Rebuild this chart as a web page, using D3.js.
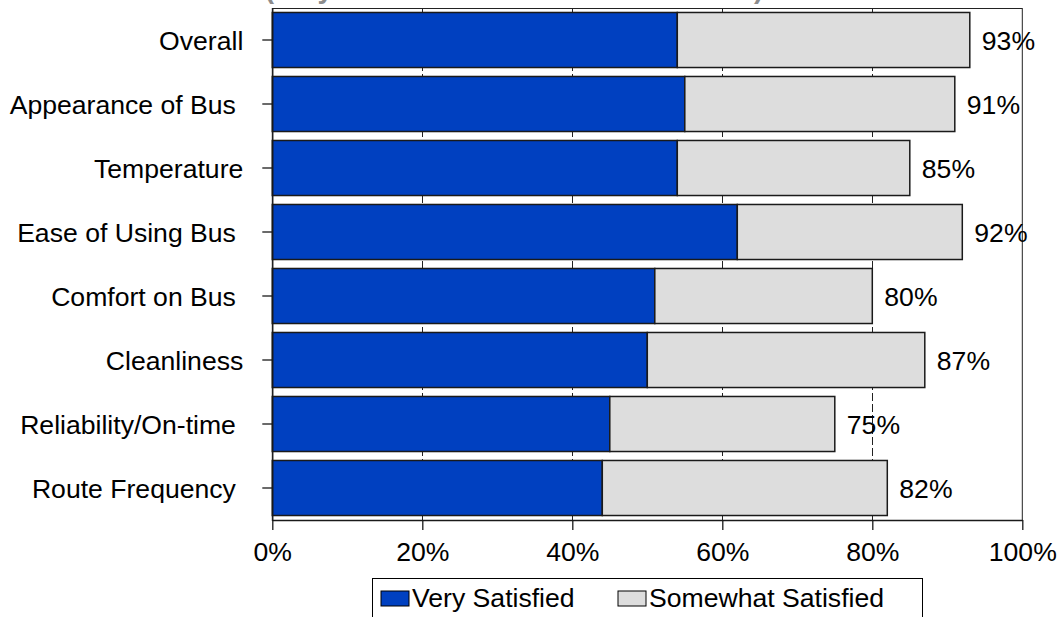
<!DOCTYPE html>
<html><head><meta charset="utf-8">
<script src="https://cdn.jsdelivr.net/npm/d3@7"></script>
<style>
body{margin:0;background:#fff}
svg{display:block}
text{font-family:"Liberation Sans",Arial,sans-serif}
</style>
</head><body>
<svg id="c" width="1059" height="617"></svg>
<script>
const categories = ["Overall","Appearance of Bus ","Temperature","Ease of Using Bus ","Comfort on Bus ","Cleanliness","Reliability/On-time ","Route Frequency "];
const verySatisfied = [54,55,54,62,51,50,45,44];
const somewhatSatisfied = [39,36,31,30,29,37,30,38];
const totalLabels = ["93%","91%","85%","92%","80%","87%","75%","82%"];
const xTicks = [0,20,40,60,80,100];
const gridTicks = [20,40,60,80];
const seriesNames = ["Very Satisfied","Somewhat Satisfied"];
const seriesColors = ["#0040C0","#DDDDDD"];
const titleText = "(Very Satisfied + Somewhat Satisfied)";

const svg = d3.select("#c");
const L = 272.3, R = 1022.3, T = 8, B = 520;
const FS = 26.6;

const x = d3.scaleLinear().domain([0,100]).range([L,R]);
const y = d3.scaleBand().domain(categories).range([T,B]).paddingInner(0.14).paddingOuter(0.07);

const rows = categories.map((c,i)=>({cat:c, very:verySatisfied[i], some:somewhatSatisfied[i], label:totalLabels[i]}));
const keys = ["very","some"];
const stack = d3.stack().keys(keys)(rows);

// title remnant (mostly above the visible area, as in the reference)
svg.append("text").attr("x",514).attr("y",-2.5).attr("text-anchor","middle")
  .attr("font-size",28).attr("font-weight","bold").attr("fill","#8c8c8c").text(titleText);

// plot border
svg.append("rect").attr("x",L).attr("y",T+0.5).attr("width",R-L).attr("height",B-T)
  .attr("fill","none").attr("stroke","#222").attr("stroke-width",1);

// gridlines
svg.append("g").selectAll("line").data(gridTicks).join("line")
  .attr("x1",d=>Math.round(x(d))+0.5).attr("x2",d=>Math.round(x(d))+0.5)
  .attr("y1",T).attr("y2",B)
  .attr("stroke","#222").attr("stroke-width",1).attr("stroke-dasharray","8,3");

// bars
svg.append("g").selectAll("g").data(stack).join("g")
  .attr("fill",(d,i)=>seriesColors[i])
  .selectAll("rect").data(d=>d).join("rect")
  .attr("x",d=>x(d[0])).attr("width",d=>x(d[1])-x(d[0]))
  .attr("y",d=>y(d.data.cat)).attr("height",y.bandwidth())
  .attr("stroke","#1a1a1a").attr("stroke-width",1.5);

// value labels
svg.append("g").selectAll("text").data(rows).join("text")
  .attr("x",d=>x(d.very+d.some)+12)
  .attr("y",d=>y(d.cat)+y.bandwidth()/2)
  .attr("dy","0.38em").attr("font-size",FS).attr("fill","#000")
  .text(d=>d.label);

// axes
const xAxis = svg.append("g").attr("transform",`translate(0,${B})`)
  .call(d3.axisBottom(x).tickValues(xTicks).tickFormat(d=>d+"%").tickSize(10).tickSizeOuter(0).tickPadding(12));
xAxis.selectAll("text").attr("font-size",FS).attr("font-family","Liberation Sans, Arial, sans-serif").attr("fill","#000");
xAxis.selectAll("line,path").attr("stroke","#1a1a1a").attr("stroke-width",1.3);

const yAxis = svg.append("g").attr("transform",`translate(${L},0)`)
  .call(d3.axisLeft(y).tickSize(10).tickSizeOuter(0).tickPadding(19));
yAxis.selectAll("text").attr("font-size",FS).attr("font-family","Liberation Sans, Arial, sans-serif")
  .attr("fill","#000").attr("dy","0.38em").style("white-space","pre");
yAxis.selectAll("line,path").attr("stroke","#1a1a1a").attr("stroke-width",1.3);

// legend
const lg = svg.append("g");
lg.append("rect").attr("x",372.5).attr("y",578.5).attr("width",550).attr("height",60)
  .attr("fill","#fff").attr("stroke","#000").attr("stroke-width",1);
const legendX = [381, 618];
const items = lg.selectAll("g.item").data(seriesNames).join("g").attr("class","item")
  .attr("transform",(d,i)=>`translate(${legendX[i]},0)`);
items.append("rect").attr("x",0).attr("y",591).attr("width",28).attr("height",15)
  .attr("fill",(d,i)=>seriesColors[i]).attr("stroke","#000").attr("stroke-width",1);
items.append("text").attr("x",31).attr("y",607).attr("font-size",FS).attr("fill","#000").text(d=>d);
</script>
</body></html>
